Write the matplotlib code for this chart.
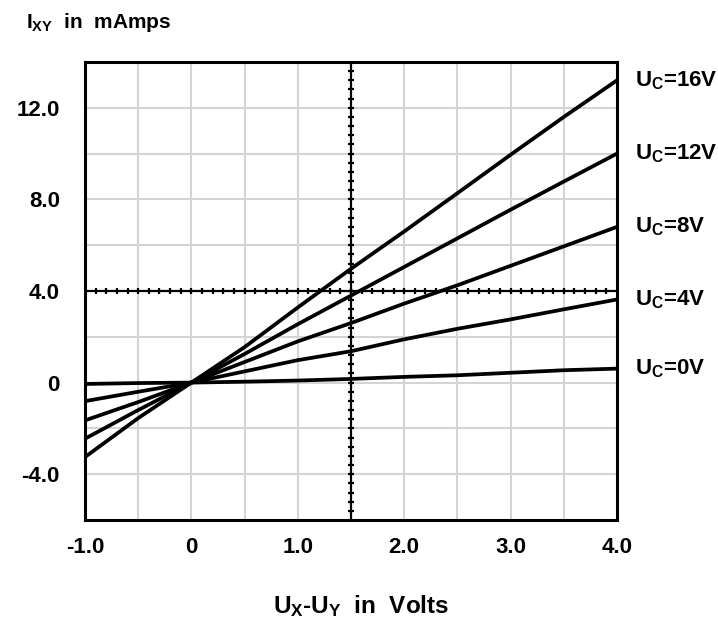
import numpy as np
import matplotlib
matplotlib.use("Agg")
import matplotlib.pyplot as plt

plt.rcParams['font.family'] = ['Liberation Sans', 'DejaVu Sans']
plt.rcParams['font.weight'] = 'bold'
plt.rcParams['mathtext.fontset'] = 'custom'
plt.rcParams['mathtext.rm'] = 'Liberation Sans:bold'
plt.rcParams['mathtext.it'] = 'Liberation Sans:bold'
plt.rcParams['mathtext.bf'] = 'Liberation Sans:bold'

# voltage U_X - U_Y (V)
u_xy = [-1.0, -0.5, 0.0, 0.5, 1.0, 1.5, 2.0, 2.5, 3.0, 3.5, 4.0]

# current I_XY (mA) for each control voltage
i_uc0 = [-0.06, -0.02, 0.0, 0.04, 0.09, 0.16, 0.25, 0.32, 0.43, 0.54, 0.61]
i_uc4 = [-0.81, -0.40, 0.0, 0.49, 0.98, 1.37, 1.89, 2.35, 2.76, 3.20, 3.63]
i_uc8 = [-1.65, -0.85, 0.0, 0.90, 1.80, 2.60, 3.45, 4.25, 5.10, 5.95, 6.80]
i_uc12 = [-2.45, -1.20, 0.0, 1.25, 2.55, 3.80, 5.05, 6.30, 7.55, 8.78, 10.0]
i_uc16 = [-3.25, -1.55, 0.0, 1.55, 3.28, 4.97, 6.60, 8.27, 9.95, 11.6, 13.2]

curves = [i_uc0, i_uc4, i_uc8, i_uc12, i_uc16]
labels = ["0V", "4V", "8V", "12V", "16V"]

x_ticks = [-1.0, 0, 1.0, 2.0, 3.0, 4.0]
x_ticklabels = ["-1.0", "0", "1.0", "2.0", "3.0", "4.0"]
y_ticks = [-4.0, 0, 4.0, 8.0, 12.0]
y_ticklabels = ["-4.0", "0", "4.0", "8.0", "12.0"]

fig = plt.figure(figsize=(7.18, 6.19), dpi=100)
ax = fig.add_axes([85 / 718, 1 - 520 / 619, 532 / 718, 458 / 619])

ax.set_xlim(-1, 4)
ax.set_ylim(-6, 14)

# light grid
for gx in np.arange(-0.5, 4.0, 0.5):
    ax.axvline(gx, color='#d4d4d4', lw=1.5, zorder=0)
for gy in np.arange(-4, 14, 2):
    ax.axhline(gy, color='#d4d4d4', lw=1.5, zorder=0)

# crosshair with small ticks
ax.axhline(4, color='black', lw=1.6, zorder=1)
ax.axvline(1.5, color='black', lw=1.6, zorder=1)
hx = np.arange(-0.9, 4.0, 0.1)
ax.plot(hx, np.full_like(hx, 4.0), ls='none', marker='|', ms=5, mew=1.6, color='black', zorder=1)
vy = np.arange(-5.6, 14.0, 0.4)
ax.plot(np.full_like(vy, 1.5), vy, ls='none', marker='_', ms=5, mew=1.6, color='black', zorder=1)

for ys in curves:
    ax.plot(u_xy, ys, color='black', lw=2.7, zorder=3, solid_joinstyle='round')

for ys, lab in zip(curves, labels):
    ax.text(4.17, ys[-1], r"$\mathrm{U_C}$=" + lab, fontsize=16, fontweight='bold',
            va='center', ha='left', clip_on=False)

ax.set_xticks(x_ticks)
ax.set_xticklabels(x_ticklabels, fontsize=16, fontweight='bold')
ax.set_yticks(y_ticks)
ax.set_yticklabels(y_ticklabels, fontsize=16, fontweight='bold')
ax.tick_params(axis='y', length=0, pad=18)
ax.tick_params(axis='x', length=0, pad=12)
for s in ax.spines.values():
    s.set_linewidth(2.2)

fig.text(26 / 718, 1 - 22 / 619, r"$\mathrm{I_{XY}}$  in  mAmps", fontsize=15,
         fontweight='bold', ha='left', va='center')
fig.text(361 / 718, 1 - 606 / 619, r"$\mathrm{U_X}$-$\mathrm{U_Y}$  in  Volts", fontsize=17.5,
         fontweight='bold', ha='center', va='center')

fig.savefig("out.png", dpi=100)
